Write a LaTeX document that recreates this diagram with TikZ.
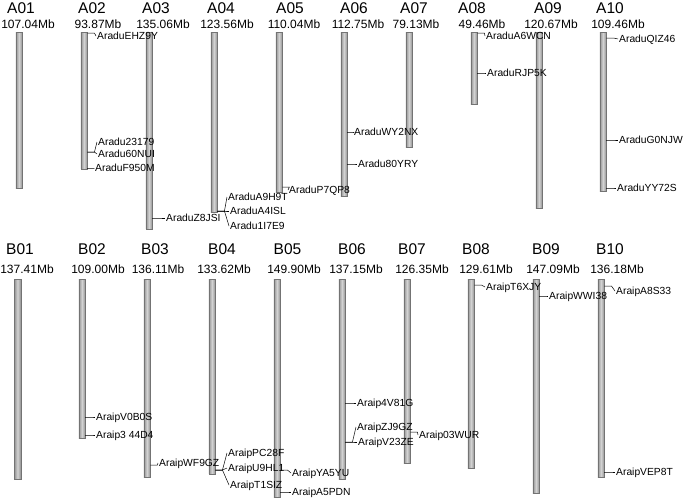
\documentclass[tikz,border=0pt]{standalone}
\usepackage{fontspec}
\setmainfont{Liberation Sans}
\tikzset{
  chrbar/.style={rectangle, anchor=north, inner sep=0pt, minimum width=6.5pt,
    left color=gray!85, right color=gray!85, middle color=gray!35, draw=black!55, line width=0.4pt},
  chrname/.style={font=\fontsize{15.5}{16}\selectfont, inner sep=0pt, text height=11.1pt, text depth=0pt},
  chrsize/.style={font=\fontsize{12}{14}\selectfont, inner sep=0pt, text height=8.6pt, text depth=0pt},
  marklabel/.style={font=\fontsize{10.3}{12}\selectfont, anchor=west, inner sep=1pt, text height=7.4pt, text depth=0pt},
  marktick/.style={line width=0.5pt, black}
}
\begin{document}
\begin{tikzpicture}[x=1pt, y=-1pt]
  \useasboundingbox (0,0) rectangle (685,498);
  \foreach \c/\x/\mb/\nx/\sx in {A01/19/107.04/21/28, A02/84/93.87/92/98, A03/149/135.06/156/163,
      A04/214/123.56/221/227, A05/279/110.04/290/294, A06/344/112.75/354/358, A07/409/79.13/414/416,
      A08/474/49.46/472/482, A09/539/120.67/548/551, A10/603/109.46/610/618} {
    \node[chrbar, minimum height=\mb*1.457pt] (\c) at (\x,32) {};
    \node[chrname] (\c-name) at (\nx,7.5) {\c};
    \node[chrsize] (\c-size) at (\sx,24) {\mb Mb};
  }
  \foreach \c/\x/\mb/\nx/\sx in {B01/17.5/137.41/20/27, B02/82/109.00/92/98, B03/147/136.11/155/158,
      B04/212/133.62/222/224, B05/277/149.90/287.5/294, B06/342/137.15/352/356, B07/407/126.35/412/422,
      B08/471/129.61/476/486, B09/536/147.09/546/553, B10/601/136.18/610/617} {
    \node[chrbar, minimum height=\mb*1.457pt] (\c) at (\x,279) {};
    \node[chrname] (\c-name) at (\nx,249) {\c};
    \node[chrsize] (\c-size) at (\sx,269) {\mb Mb};
  }
  \foreach \c/\ym/\yl/\tx/\t/\id in {A02/33/36/97/AraduEHZ9Y/EHZ9Y, A02/152/142/98/Aradu23179/m23179,
      A02/152/154/98/Aradu60NUI/m60NUI, A02/168/168/95/AraduF950M/F950M, A03/218/218/166/AraduZ8JSI/Z8JSI,
      A04/211/197/228/AraduA9H9T/A9H9T, A04/211/211/230/AraduA4ISL/A4ISL, A04/211/226/230/Aradu1I7E9/m1I7E9,
      A05/187/190/289/AraduP7QP8/P7QP8, A06/132/132/354/AraduWY2NX/WY2NX, A06/164/164/358/Aradu80YRY/m80YRY,
      A08/33/36/486/AraduA6WCN/A6WCN, A08/73/73/487/AraduRJP5K/RJP5K, A10/38/39/619/AraduQIZ46/QIZ46,
      A10/140/140/619/AraduG0NJW/G0NJW, A10/188/188/617/AraduYY72S/YY72S,
      B02/417/417/96/AraipV0B0S/V0B0S, B02/435/435/96/Araip3 44D4/m344D4, B03/465/463/159/AraipWF9GZ/WF9GZ,
      B04/470/453/228/AraipPC28F/PC28F, B04/470/468/228/AraipU9HL1/U9HL1, B04/470/485/230/AraipT1SIZ/T1SIZ,
      B05/470/473/292/AraipYA5YU/YA5YU, B05/492/492/292/AraipA5PDN/A5PDN, B06/403/403/357/Araip4V81G/m4V81G,
      B06/442/427/357/AraipZJ9GZ/ZJ9GZ, B06/442/442/358/AraipV23ZE/V23ZE, B07/432/435/419/Araip03WUR/m03WUR,
      B08/285/287/486/AraipT6XJY/T6XJY, B09/296/296/549/AraipWWI38/WWI38, B10/286/291/616/AraipA8S33/A8S33,
      B10/472/472/616/AraipVEP8T/VEP8T} {
    \node[marklabel] (\id) at (\tx-1,\yl) {\t};
    \draw[marktick] (\c.east |- 0,\ym) -- ++(7,0) -- (\id.west);
  }
\end{tikzpicture}
\end{document}
